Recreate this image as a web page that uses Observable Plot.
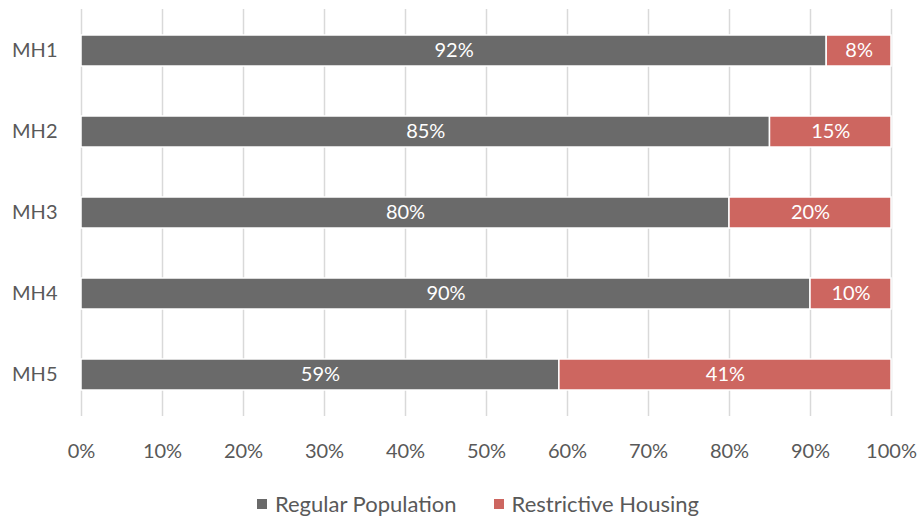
<!DOCTYPE html>
<html>
<head>
<meta charset="utf-8">
<script src="https://cdn.jsdelivr.net/npm/d3@7"></script>
<script src="https://cdn.jsdelivr.net/npm/@observablehq/plot@0.6"></script>
<style>
  html, body { margin: 0; padding: 0; background: #fff; }
  body { width: 920px; height: 518px; overflow: hidden; font-family: Lato, "Noto Sans", sans-serif; }
  #legend { display: flex; justify-content: center; align-items: center; gap: 37px; margin-top: 20px; font-size: 22px; color: #595959; padding-left: 36px; }
  #legend .item { display: flex; align-items: center; }
  #legend .sw { width: 10px; height: 10px; margin-right: 8px; }
</style>
</head>
<body>
<div id="chart"></div>
<div id="legend"></div>
<script>
const categories = ["MH1", "MH2", "MH3", "MH4", "MH5"];
const seriesNames = ["Regular Population", "Restrictive Housing"];
const regular = [92, 85, 80, 90, 59];
const restrictive = [8, 15, 20, 10, 41];
const xTicks = [0, 10, 20, 30, 40, 50, 60, 70, 80, 90, 100];
const colors = ["#6a6a6a", "#cd6660"];

const data = [];
categories.forEach((c, i) => {
  data.push({cat: c, series: seriesNames[0], value: regular[i]});
  data.push({cat: c, series: seriesNames[1], value: restrictive[i]});
});

const chart = Plot.plot({
  width: 920,
  height: 470,
  marginTop: 9,
  marginBottom: 54,
  marginLeft: 81,
  marginRight: 29,
  style: {fontFamily: "Lato, 'Noto Sans', sans-serif", fontSize: "20px", color: "#595959", background: "#fff"},
  x: {domain: [0, 100], ticks: xTicks, tickFormat: d => d + "%", label: null},
  y: {domain: categories, paddingInner: 0.62, paddingOuter: 0.31, label: null},
  color: {domain: seriesNames, range: colors},
  marks: [
    Plot.ruleX(xTicks, {stroke: "#d9d9d9", strokeWidth: 1.5}),
    Plot.barX(data, Plot.stackX({x: "value", y: "cat", fill: "series", stroke: "white", strokeWidth: 1.5, order: seriesNames})),
    Plot.text(data, Plot.stackX({x: "value", y: "cat", z: "series", order: seriesNames, text: d => d.value + "%", fill: "white", fontSize: 20})),
    Plot.axisX({ticks: xTicks, tickFormat: d => d + "%", tickSize: 0, tickPadding: 27, fontSize: 20, label: null}),
    Plot.axisY({tickSize: 0, tickPadding: 24, fontSize: 20, label: null})
  ]
});
document.getElementById("chart").appendChild(chart);

const legend = document.getElementById("legend");
seriesNames.forEach((name, i) => {
  const item = document.createElement("div");
  item.className = "item";
  const sw = document.createElement("span");
  sw.className = "sw";
  sw.style.background = colors[i];
  const label = document.createElement("span");
  label.textContent = name;
  item.appendChild(sw);
  item.appendChild(label);
  legend.appendChild(item);
});
</script>
</body>
</html>
